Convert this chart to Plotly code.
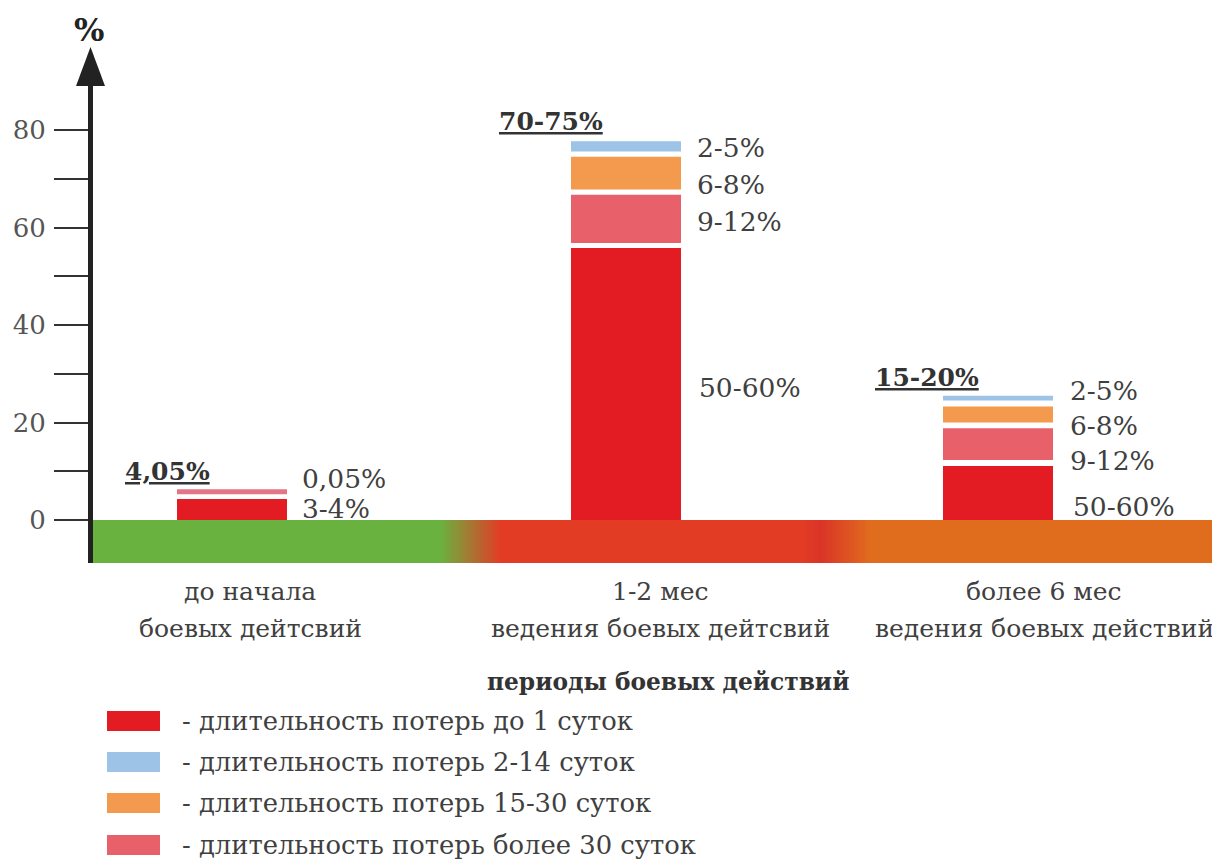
import plotly.graph_objects as go

# ---------------- data ----------------
categories = ["до начала|боевых дейтсвий",
              "1-2 мес|ведения боевых дейтсвий",
              "более 6 мес|ведения боевых действий"]
bar_pos = [142, 536, 908]           # positions of the three periods on the x axis

red_lo = [0, 0, 0]
red_hi = [4.3, 55.8, 11.1]
over30_lo = [5.3, 56.8, 12.3]
over30_hi = [6.3, 66.7, 18.8]
orange_lo = [None, 67.8, 20.0]
orange_hi = [None, 74.5, 23.3]
blue_lo = [None, 75.6, 24.5]
blue_hi = [None, 77.7, 25.5]

totals = ["4,05%", "70-75%", "15-20%"]
seg_labels = [["0,05%", "3-4%"],
              ["2-5%", "6-8%", "9-12%", "50-60%"],
              ["2-5%", "6-8%", "9-12%", "50-60%"]]

y_ticks = [0, 10, 20, 30, 40, 50, 60, 70, 80]
y_ticktext = ["0", "", "20", "", "40", "", "60", "", "80"]

legend_names = ["- длительность потерь до 1 суток",
                "- длительность потерь 2-14 суток",
                "- длительность потерь 15-30 суток",
                "- длительность потерь более 30 суток"]

band_x = [0, 350, 410, 712, 730, 780, 1130]
band_z = [0, 1, 2, 3, 4, 5, 6]

# ---------------- styles ----------------
RED = "#E31B23"
BLUE = "#9DC3E6"
ORANGE = "#F39A4E"
LRED = "#E8616A"
TXT = "#404040"
SERIF = "DejaVu Serif"

# page body has an 8px margin: figure is drawn 8px smaller, coordinates below are page coords
W, H = 1212, 852
PLOT_L, PLOT_T, PLOT_B = 90, 42, 563       # page coords of the plot area
ML = PLOT_L - 8
MT = PLOT_T - 8
MB = H - (PLOT_B - 8)
MR = 0
PW = W - ML - MR
PH = H - MT - MB


def px(x):
    return (x - PLOT_L) / PW


def py(y):
    return (PLOT_B - y) / PH


def span(lo, hi):
    return [None if a is None else b - a for a, b in zip(lo, hi)]


fig = go.Figure()

# gradient band under the zero line
fig.add_trace(go.Heatmap(
    x=band_x, y=[-8.82, -4.41, 0], z=[band_z, band_z],
    zmin=0, zmax=6, zsmooth="best", showscale=False, hoverinfo="skip",
    colorscale=[[0, "#6AB23F"], [1/6, "#6AB23F"], [2/6, "#E23C25"],
                [3/6, "#E23C25"], [4/6, "#DA3427"], [5/6, "#E06C1E"], [1, "#E06C1E"]],
))

bar_w = 110
fig.add_trace(go.Bar(x=bar_pos, y=span(red_lo, red_hi), base=red_lo, width=bar_w,
                     marker=dict(color=RED, line_width=0), name=legend_names[0]))
fig.add_trace(go.Bar(x=bar_pos, y=span(over30_lo, over30_hi), base=over30_lo, width=bar_w,
                     marker=dict(color=["#E37585", LRED, LRED], line_width=0), name=legend_names[3]))
fig.add_trace(go.Bar(x=bar_pos, y=span(orange_lo, orange_hi), base=orange_lo, width=bar_w,
                     marker=dict(color=ORANGE, line_width=0), name=legend_names[2]))
fig.add_trace(go.Bar(x=bar_pos, y=span(blue_lo, blue_hi), base=blue_lo, width=bar_w,
                     marker=dict(color=BLUE, line_width=0), name=legend_names[1]))

ann = []
shapes = []

# axis line + arrow head
shapes.append(dict(type="line", xref="paper", yref="paper", x0=px(90.5), x1=px(90.5),
                   y0=py(563), y1=py(82), line=dict(color="#222", width=5), layer="above"))
shapes.append(dict(type="path", xref="paper", yref="paper",
                   path=f"M {px(90.5)},{py(47)} L {px(76)},{py(86)} L {px(105)},{py(86)} Z",
                   fillcolor="#222", line=dict(width=0), layer="above"))
ann.append(dict(text="<b>%</b>", x=px(89), y=py(30), xref="paper", yref="paper",
                xanchor="center", yanchor="middle",
                showarrow=False, font=dict(family=SERIF, size=32, color="#222")))

# value labels
tot_pos = [(123, 471), (497, 121), (873, 377)]
seg_pos = [[(300, 478), (300, 508)],
           [(695, 147), (695, 184), (695, 221), (697, 387)],
           [(1068, 390), (1068, 425), (1068, 460), (1071, 506)]]
for i in range(3):
    tx, ty = tot_pos[i]
    ann.append(dict(text=f"<b><u>{totals[i]}</u></b>", x=px(tx), y=py(ty), xref="paper", yref="paper",
                    xanchor="left", yanchor="middle", showarrow=False,
                    font=dict(family=SERIF, size=25, color="#333")))
    for lab, (lx, ly) in zip(seg_labels[i], seg_pos[i]):
        ann.append(dict(text=lab, x=px(lx), y=py(ly), xref="paper", yref="paper",
                        xanchor="left", yanchor="middle", showarrow=False,
                        font=dict(family=SERIF, size=26.5, color=TXT)))

# category labels
cat_cx = [250, 660, 1044]
for c, cx in zip(categories, cat_cx):
    l1, l2 = c.split("|")
    ann.append(dict(text=l1, x=px(cx), y=py(591), xref="paper", yref="paper",
                    xanchor="center", yanchor="middle", showarrow=False,
                    font=dict(family=SERIF, size=25, color=TXT)))
    ann.append(dict(text=l2, x=px(cx), y=py(628), xref="paper", yref="paper",
                    xanchor="center", yanchor="middle", showarrow=False,
                    font=dict(family=SERIF, size=25, color=TXT)))

ann.append(dict(text="<b>периоды боевых действий</b>", x=px(668), y=py(681), xref="paper", yref="paper",
                xanchor="center", yanchor="middle", showarrow=False,
                font=dict(family=SERIF, size=23.3, color="#333")))

# legend
leg_colors = [RED, BLUE, ORANGE, LRED]
leg_y = [721, 762, 803, 845]
for col, name, ly in zip(leg_colors, legend_names, leg_y):
    shapes.append(dict(type="rect", xref="paper", yref="paper",
                       x0=px(107), x1=px(160), y0=py(ly - 10), y1=py(ly + 10),
                       fillcolor=col, line=dict(width=0)))
    ann.append(dict(text=name, x=px(180), y=py(ly), xref="paper", yref="paper",
                    xanchor="left", yanchor="middle", showarrow=False,
                    font=dict(family=SERIF, size=25.8, color=TXT)))

fig.update_layout(
    width=W, height=H, margin=dict(l=ML, r=MR, t=MT, b=MB),
    paper_bgcolor="white", plot_bgcolor="white",
    barmode="overlay", showlegend=False,
    xaxis=dict(range=[0, PW], visible=False, fixedrange=True),
    yaxis=dict(range=[-8.82, 98.05], showgrid=False, zeroline=False, showline=False,
               tickmode="array", tickvals=y_ticks, ticktext=y_ticktext,
               ticks="outside", ticklen=35, tickwidth=2, tickcolor="#333",
               ticklabelstandoff=3,
               tickfont=dict(family=SERIF, size=26, color="#555")),
    annotations=ann, shapes=shapes,
)

fig.write_html("out.html")
